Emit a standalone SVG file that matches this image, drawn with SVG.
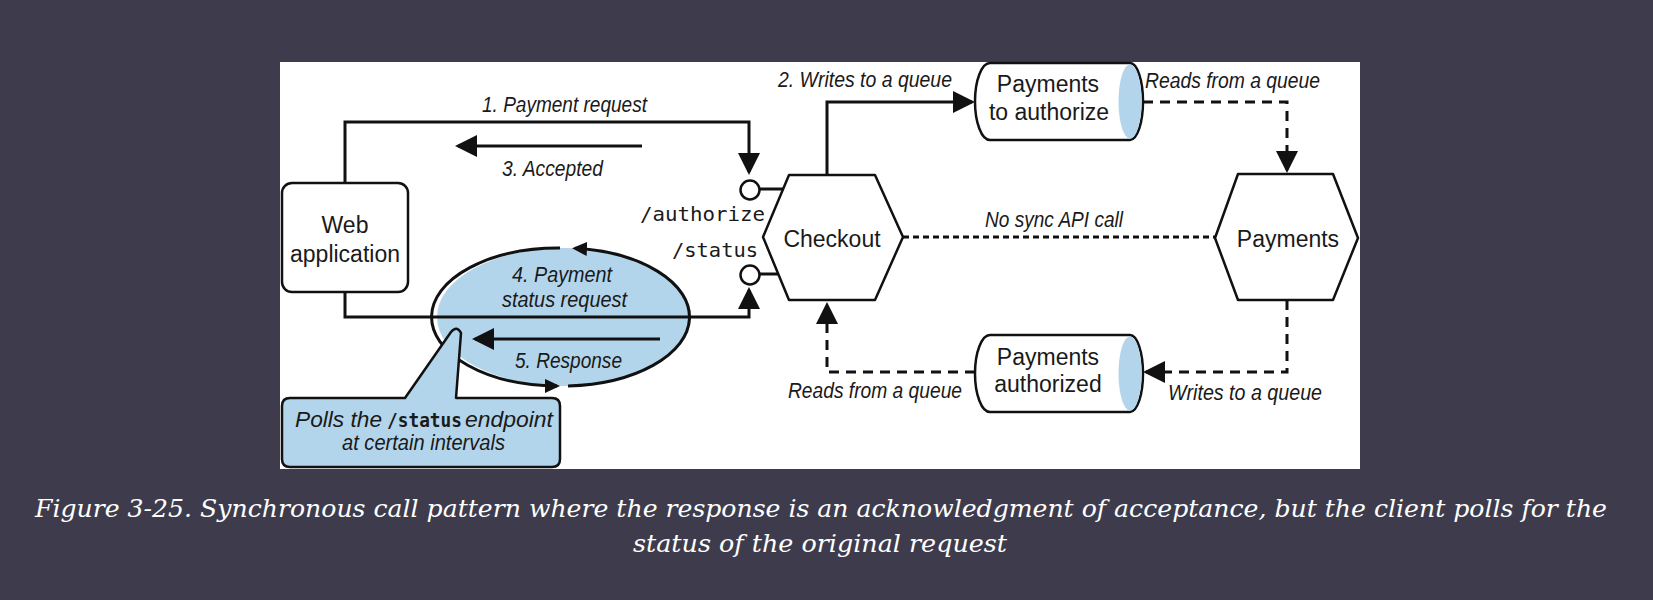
<svg xmlns="http://www.w3.org/2000/svg" width="1653" height="600" viewBox="0 0 1653 600">
<style>
.node{fill:#fff;stroke:#111;stroke-width:2.5;stroke-linejoin:round}
.blue{fill:#b3d5eb}
.conn{fill:none;stroke:#111;stroke-width:3}
.dash{stroke-dasharray:10 7}
.dot{stroke-dasharray:6 4}
.lbl{font-family:"Liberation Sans",Arial,sans-serif;font-size:23px;fill:#1a1a1a;text-anchor:middle}
.it{font-family:"Liberation Sans",Arial,sans-serif;font-size:22px;font-style:italic;fill:#1a1a1a}
.mono{font-family:"DejaVu Sans Mono","Liberation Mono",monospace;font-size:20px;fill:#1a1a1a}
.cap{font-family:"DejaVu Serif","Liberation Serif",serif;font-size:24px;font-style:italic;fill:#fff}
</style>
<defs>
<marker id="arr" viewBox="0 0 22 22" refX="19" refY="11" markerWidth="22" markerHeight="22" orient="auto" markerUnits="userSpaceOnUse"><path d="M0,0 L22,11 L0,22 Z" fill="#111"/></marker>
<marker id="arrS" viewBox="0 0 15 14" refX="12" refY="7" markerWidth="15" markerHeight="14" orient="auto" markerUnits="userSpaceOnUse"><path d="M0,0 L15,7 L0,14 Z" fill="#111"/></marker>
</defs>
<rect x="0" y="0" width="1653" height="600" fill="#3e3c4c"/>
<rect x="280" y="62" width="1080" height="407" fill="#fff"/>

<g id="polling-ellipse">
<ellipse cx="564" cy="317" rx="127" ry="69" class="blue"/>
<path class="conn" d="M568,385.9 A127,69 0 0 0 575,248.3" stroke-width="2.5" marker-end="url(#arrS)"/>
<path class="conn" d="M560,248 A127,69 0 0 0 557,386" stroke-width="2.5" marker-end="url(#arrS)"/>
<text class="it" x="512" y="282" textLength="100" lengthAdjust="spacingAndGlyphs">4. Payment</text>
<text class="it" x="502" y="307" textLength="125" lengthAdjust="spacingAndGlyphs">status request</text>
<text class="it" x="515" y="368" textLength="107" lengthAdjust="spacingAndGlyphs">5. Response</text>
</g>

<g id="web-application">
<rect class="node" x="282" y="183" width="126" height="109" rx="10"/>
<text class="lbl" x="345" y="233">Web</text>
<text class="lbl" x="345" y="262">application</text>
</g>

<g id="checkout">
<polygon class="node" points="763,237 789,175 875,175 903,237 875,300 789,300"/>
<text class="lbl" x="832" y="247">Checkout</text>
</g>

<g id="authorize-endpoint">
<line class="conn" x1="759" y1="189" x2="783" y2="189" stroke-width="2.5"/>
<circle class="node" cx="750" cy="190" r="9.5"/>
<text class="mono" x="640" y="221" textLength="125" lengthAdjust="spacingAndGlyphs">/authorize</text>
</g>

<g id="status-endpoint">
<line class="conn" x1="759" y1="274" x2="778" y2="274" stroke-width="2.5"/>
<circle class="node" cx="750" cy="275" r="9.5"/>
<text class="mono" x="672" y="257" textLength="86" lengthAdjust="spacingAndGlyphs">/status</text>
</g>

<g id="payments">
<polygon class="node" points="1215,238 1238,174 1333,174 1358,238 1333,300 1238,300"/>
<text class="lbl" x="1288" y="247">Payments</text>
</g>

<g id="queue-payments-to-authorize">
<path class="node" d="M1130,63 H990 A15,38.5 0 0 0 990,140 H1130 A13,38.5 0 0 0 1130,63 Z"/>
<ellipse class="blue" cx="1130" cy="101.5" rx="11.5" ry="37"/>
<text class="lbl" x="1048" y="92">Payments</text>
<text class="lbl" x="1049" y="120">to authorize</text>
</g>

<g id="queue-payments-authorized">
<path class="node" d="M1130,335 H990 A15,38.5 0 0 0 990,412 H1130 A13,38.5 0 0 0 1130,335 Z"/>
<ellipse class="blue" cx="1130" cy="373.5" rx="11.5" ry="37"/>
<text class="lbl" x="1048" y="365">Payments</text>
<text class="lbl" x="1048" y="392">authorized</text>
</g>

<g id="connectors">
<path class="conn" d="M345,183 V122 H749 V172" marker-end="url(#arr)"/>
<text class="it" x="482" y="112" textLength="165" lengthAdjust="spacingAndGlyphs">1. Payment request</text>
<path class="conn" d="M642,146 H458" marker-end="url(#arr)"/>
<text class="it" x="502" y="176" textLength="101" lengthAdjust="spacingAndGlyphs">3. Accepted</text>
<path class="conn" d="M345,292 V317 H749 V290" marker-end="url(#arr)"/>
<path class="conn" d="M660,339 H475" marker-end="url(#arr)"/>
<path class="conn" d="M827,175 V102 H972" marker-end="url(#arr)"/>
<text class="it" x="778" y="87" textLength="174" lengthAdjust="spacingAndGlyphs">2. Writes to a queue</text>
<path class="conn dash" d="M1143,102 H1287 V170" marker-end="url(#arr)"/>
<text class="it" x="1145" y="88" textLength="175" lengthAdjust="spacingAndGlyphs">Reads from a queue</text>
<path class="conn dot" d="M903,237 H1215"/>
<text class="it" x="985" y="227" textLength="138" lengthAdjust="spacingAndGlyphs">No sync API call</text>
<path class="conn dash" d="M1287,300 V372 H1146" marker-end="url(#arr)"/>
<text class="it" x="1168" y="400" textLength="154" lengthAdjust="spacingAndGlyphs">Writes to a queue</text>
<path class="conn dash" d="M975,372 H827 V305" marker-end="url(#arr)"/>
<text class="it" x="788" y="398" textLength="174" lengthAdjust="spacingAndGlyphs">Reads from a queue</text>
</g>

<g id="callout">
<path class="node blue" stroke="#111" stroke-width="2.5" d="M290,398 H405 L451,332 Q457,325 461,333 L456,398 H552 Q560,398 560,406 V459 Q560,467 552,467 H290 Q282,467 282,459 V406 Q282,398 290,398 Z"/>
<text class="it" x="295" y="427" textLength="87" lengthAdjust="spacingAndGlyphs">Polls the</text>
<text class="mono" x="387" y="427" font-size="19" font-weight="bold" textLength="75" lengthAdjust="spacingAndGlyphs">/status</text>
<text class="it" x="465" y="427" textLength="88" lengthAdjust="spacingAndGlyphs">endpoint</text>
<text class="it" x="342" y="450" textLength="163" lengthAdjust="spacingAndGlyphs">at certain intervals</text>
</g>

<text class="cap" x="35" y="517" textLength="1572" lengthAdjust="spacingAndGlyphs">Figure 3-25. Synchronous call pattern where the response is an acknowledgment of acceptance, but the client polls for the</text>
<text class="cap" x="633" y="552" textLength="374" lengthAdjust="spacingAndGlyphs">status of the original request</text>
</svg>
